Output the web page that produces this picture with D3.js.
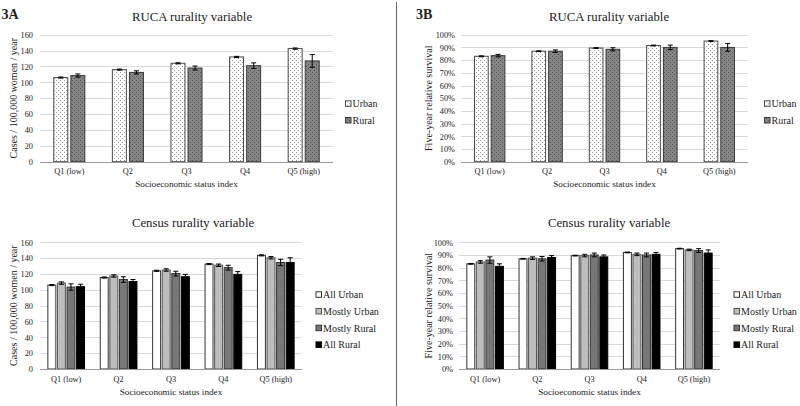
<!DOCTYPE html>
<html><head><meta charset="utf-8">
<script src="https://cdn.jsdelivr.net/npm/d3@7"></script>
<style>
html,body{margin:0;padding:0;background:#fff;}
svg text{font-family:"Liberation Serif","Times New Roman",serif;fill:#222;}
</style></head>
<body>
<script>
// ---------- DATA ----------
const categories = ["Q1 (low)", "Q2", "Q3", "Q4", "Q5 (high)"];

// 3A RUCA incidence (cases / 100,000 women / year)
const rucaSeries = ["Urban", "Rural"];
const rucaIncUrban = [106, 116, 124, 132, 142.5];
const rucaIncRural = [108.5, 112.5, 118, 121, 127];
const rucaIncUrbanErr = [0.7, 0.7, 0.7, 0.7, 0.8];
const rucaIncRuralErr = [2, 2, 2.5, 3.5, 8];

// 3A Census incidence
const censusSeries = ["All Urban", "Mostly Urban", "Mostly Rural", "All Rural"];
const cenIncAllUrban = [106, 115.5, 124, 132.5, 143.5];
const cenIncMostlyUrban = [108.5, 117.5, 125, 131, 140.5];
const cenIncMostlyRural = [103.5, 113, 120.5, 128, 134.5];
const cenIncAllRural = [104, 110.5, 116.5, 119.5, 134.5];
const cenIncAllUrbanErr = [0.7, 0.7, 0.7, 0.7, 0.7];
const cenIncMostlyUrbanErr = [1.5, 1.5, 1.5, 1.5, 1.5];
const cenIncMostlyRuralErr = [4, 3.5, 3, 3, 4];
const cenIncAllRuralErr = [3, 2.5, 3, 3.5, 6];

// 3B RUCA survival (%)
const rucaSurvUrban = [83, 87, 89.5, 91.5, 95];
const rucaSurvRural = [83.5, 87, 88.5, 90, 90];
const rucaSurvUrbanErr = [0.4, 0.3, 0.3, 0.3, 0.3];
const rucaSurvRuralErr = [1, 1, 1.2, 1.8, 3];

// 3B Census survival (%)
const cenSurvAllUrban = [83, 87, 89.5, 92, 95];
const cenSurvMostlyUrban = [84.5, 87.5, 89.5, 90.5, 94];
const cenSurvMostlyRural = [86, 87, 90, 90, 93.5];
const cenSurvAllRural = [81, 88, 88.5, 90.5, 91.5];
const cenSurvAllUrbanErr = [0.3, 0.3, 0.3, 0.3, 0.3];
const cenSurvMostlyUrbanErr = [1, 1, 1, 1, 0.6];
const cenSurvMostlyRuralErr = [2.5, 1.8, 1.5, 1.5, 1.5];
const cenSurvAllRuralErr = [2, 1.5, 1.5, 1.5, 2.5];

const incTicks = [0, 20, 40, 60, 80, 100, 120, 140, 160];
const survTicks = [0, 10, 20, 30, 40, 50, 60, 70, 80, 90, 100];

const xTitle = "Socioeconomic status index";
const incYTitle = "Cases / 100,000 women / year";
const survYTitle = "Five-year relative survival";

// ---------- DRAW ----------
const W = 800, H = 406;
const FONT = '"Liberation Serif","Times New Roman",serif';
const svg = d3.select("body").append("svg").attr("width", W).attr("height", H)
  .attr("font-family", FONT);

const defs = svg.append("defs");
function dotPattern(id, bg, dot) {
  const p = defs.append("pattern").attr("id", id).attr("patternUnits", "userSpaceOnUse")
    .attr("width", 4).attr("height", 4);
  p.append("rect").attr("width", 4).attr("height", 4).attr("fill", bg);
  p.append("rect").attr("x", 0).attr("y", 0).attr("width", 1).attr("height", 1).attr("fill", dot);
  p.append("rect").attr("x", 2).attr("y", 2).attr("width", 1).attr("height", 1).attr("fill", dot);
}
dotPattern("patUrban", "#ffffff", "#9a9a9a");
dotPattern("patRural", "#858585", "#555555");

const rucaStyles = [
  {fill: "url(#patUrban)", stroke: "#4a4a4a"},
  {fill: "url(#patRural)", stroke: "#3a3a3a"}
];
const censusStyles = [
  {fill: "#ffffff", stroke: "#333"},
  {fill: "#bdbdbd", stroke: "#555"},
  {fill: "#777777", stroke: "#333"},
  {fill: "#000000", stroke: "#000"}
];

function panel(cfg) {
  const g = svg.append("g");
  const x = d3.scaleBand().domain(categories).range([cfg.x0, cfg.x1]).paddingInner(0).paddingOuter(0);
  const inner = d3.scaleBand().domain(cfg.series.map((d, i) => i))
    .range([0, x.bandwidth() * cfg.groupFrac]).paddingInner(cfg.innerPad);
  const y = d3.scaleLinear().domain([0, cfg.ymax]).range([cfg.y1, cfg.y0]);

  // gridlines
  g.selectAll("line.grid").data(cfg.ticks.filter(t => t > 0)).join("line")
    .attr("x1", cfg.x0).attr("x2", cfg.x1)
    .attr("y1", d => Math.round(y(d)) + 0.5).attr("y2", d => Math.round(y(d)) + 0.5)
    .attr("stroke", "#d9d9d9").attr("stroke-width", 1);

  // y tick labels
  const yAxis = d3.axisLeft(y).tickValues(cfg.ticks).tickSize(0).tickPadding(0)
    .tickFormat(cfg.fmt);
  const ya = g.append("g").attr("transform", `translate(${cfg.x0 - cfg.yTickGap},0)`).call(yAxis);
  ya.attr("font-family", FONT);
  ya.select(".domain").remove();
  ya.selectAll("text").attr("font-size", 8.3).attr("fill", "#333").attr("dy", "0.33em")
    .style("font-family", FONT);

  // bars
  const groupOffset = (x.bandwidth() - x.bandwidth() * cfg.groupFrac) / 2;
  cfg.series.forEach((s, si) => {
    const vals = cfg.values[si], errs = cfg.errors[si];
    const st = cfg.styles[si];
    const bx = c => x(c) + groupOffset + inner(si);
    g.selectAll(null).data(categories).join("rect")
      .attr("x", (c) => bx(c))
      .attr("y", (c, i) => y(vals[i]))
      .attr("width", inner.bandwidth())
      .attr("height", (c, i) => y(0) - y(vals[i]))
      .attr("fill", st.fill).attr("stroke", st.stroke).attr("stroke-width", 1);
    // error bars
    const eg = g.selectAll(null).data(categories).join("g");
    eg.append("line")
      .attr("x1", c => bx(c) + inner.bandwidth() / 2).attr("x2", c => bx(c) + inner.bandwidth() / 2)
      .attr("y1", (c, i) => y(vals[i] + errs[i])).attr("y2", (c, i) => y(vals[i] - errs[i]))
      .attr("stroke", "#000").attr("stroke-width", 1);
    [1, -1].forEach(sg => {
      eg.append("line")
        .attr("x1", c => bx(c) + inner.bandwidth() / 2 - 2.5).attr("x2", c => bx(c) + inner.bandwidth() / 2 + 2.5)
        .attr("y1", (c, i) => y(vals[i] + sg * errs[i])).attr("y2", (c, i) => y(vals[i] + sg * errs[i]))
        .attr("stroke", "#000").attr("stroke-width", 1);
    });
  });

  // x axis line + tick labels
  const xa = g.append("g").attr("transform", `translate(0,${Math.round(y(0)) + 0.5})`)
    .call(d3.axisBottom(x).tickSize(0).tickPadding(0));
  xa.attr("font-family", FONT);
  xa.select(".domain").attr("stroke", "#9a9a9a").attr("d", `M${cfg.x0},0H${cfg.x1}`);
  xa.selectAll("text").attr("font-size", 8.3).attr("fill", "#333")
    .attr("y", cfg.xTickOff).attr("dy", 0)
    .style("font-family", FONT);

  // titles
  g.append("text").attr("x", cfg.titleX).attr("y", cfg.titleY).attr("text-anchor", "middle")
    .attr("font-size", 12.8).text(cfg.title);
  g.append("text").attr("x", (cfg.x0 + cfg.x1) / 2).attr("y", cfg.y1 + cfg.xTitleOff).attr("text-anchor", "middle")
    .attr("font-size", 9.2).text(xTitle);
  g.append("text").attr("transform", `translate(${cfg.yTitleX},${(cfg.y0 + cfg.y1) / 2}) rotate(-90)`)
    .attr("text-anchor", "middle").attr("font-size", 10).text(cfg.yTitle);

  // legend
  const lg = g.selectAll(null).data(cfg.series).join("g")
    .attr("transform", (d, i) => `translate(${cfg.legX},${cfg.legY + i * cfg.legStep})`);
  lg.append("rect").attr("x", 0.5).attr("y", -6.5).attr("width", 5.5).attr("height", 5.5)
    .attr("fill", (d, i) => cfg.styles[i].fill).attr("stroke", (d, i) => cfg.styles[i].stroke);
  lg.append("text").attr("x", 7.5).attr("y", 0).attr("font-size", 10).text(d => d);
}

const pct = d => d + "%";

panel({x0: 40, x1: 333, y0: 34.7, y1: 161.7, ymax: 160, ticks: incTicks, fmt: d => d, yTickGap: 7,
  series: rucaSeries, values: [rucaIncUrban, rucaIncRural], errors: [rucaIncUrbanErr, rucaIncRuralErr],
  styles: rucaStyles, groupFrac: 0.53, innerPad: 0.18, xTickOff: 11.5, xTitleOff: 25,
  title: "RUCA rurality variable", titleX: 192, titleY: 20.7, yTitle: incYTitle, yTitleX: 17,
  legX: 345, legY: 107.3, legStep: 16.7});

panel({x0: 40, x1: 302, y0: 242.3, y1: 369, ymax: 160, ticks: incTicks, fmt: d => d, yTickGap: 7,
  series: censusSeries,
  values: [cenIncAllUrban, cenIncMostlyUrban, cenIncMostlyRural, cenIncAllRural],
  errors: [cenIncAllUrbanErr, cenIncMostlyUrbanErr, cenIncMostlyRuralErr, cenIncAllRuralErr],
  styles: censusStyles, groupFrac: 0.70, innerPad: 0.17, xTickOff: 12.3, xTitleOff: 25.8,
  title: "Census rurality variable", titleX: 193, titleY: 227.3, yTitle: incYTitle, yTitleX: 17,
  legX: 315.5, legY: 298.3, legStep: 16.7});

panel({x0: 461, x1: 748, y0: 34.7, y1: 161.7, ymax: 100, ticks: survTicks, fmt: pct, yTickGap: 6,
  series: rucaSeries, values: [rucaSurvUrban, rucaSurvRural], errors: [rucaSurvUrbanErr, rucaSurvRuralErr],
  styles: rucaStyles, groupFrac: 0.53, innerPad: 0.18, xTickOff: 11.5, xTitleOff: 25,
  title: "RUCA rurality variable", titleX: 609, titleY: 20.7, yTitle: survYTitle, yTitleX: 432,
  legX: 764, legY: 107.3, legStep: 16.7});

panel({x0: 459, x1: 720, y0: 242.3, y1: 369, ymax: 100, ticks: survTicks, fmt: pct, yTickGap: 6,
  series: censusSeries,
  values: [cenSurvAllUrban, cenSurvMostlyUrban, cenSurvMostlyRural, cenSurvAllRural],
  errors: [cenSurvAllUrbanErr, cenSurvMostlyUrbanErr, cenSurvMostlyRuralErr, cenSurvAllRuralErr],
  styles: censusStyles, groupFrac: 0.70, innerPad: 0.17, xTickOff: 12.3, xTitleOff: 25.8,
  title: "Census rurality variable", titleX: 609, titleY: 227.3, yTitle: survYTitle, yTitleX: 432,
  legX: 733.5, legY: 298.3, legStep: 16.7});

// panel labels
svg.append("text").attr("x", 1.5).attr("y", 18.5).attr("font-size", 14).attr("font-weight", "bold").text("3A");
svg.append("text").attr("x", 416).attr("y", 18.5).attr("font-size", 14).attr("font-weight", "bold").text("3B");

// divider
svg.append("line").attr("x1", 396.5).attr("x2", 396.5).attr("y1", 2).attr("y2", H)
  .attr("stroke", "#666").attr("stroke-width", 1);
</script>
</body></html>
